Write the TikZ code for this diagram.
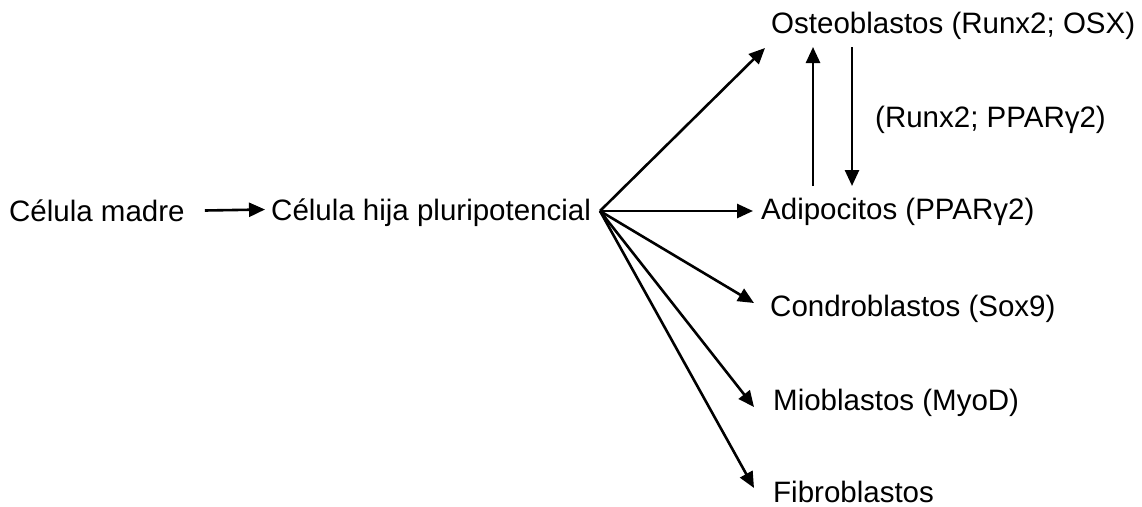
\documentclass[tikz,border=0pt]{standalone}
\usepackage{fontspec}
\setmainfont{Liberation Sans}
\usetikzlibrary{arrows.meta}
\begin{document}
\begin{tikzpicture}[x=1pt,y=-1pt,
  lbl/.style={anchor=base west,inner sep=0pt,text height=21pt,text depth=0pt,font=\fontsize{29.5}{34}\selectfont},
  arr/.style={line width=2.6pt,-{Triangle[length=16pt,width=14pt]}}]
\useasboundingbox (0,0) rectangle (1142,506);
\node[lbl] (madre) at (9,221) {Célula madre};
\node[lbl] (hija) at (271,220) {Célula hija pluripotencial};
\node[lbl] (osteo) at (771,33) {Osteoblastos (Runx2; OSX)};
\node[lbl] (adipo) at (761,219) {Adipocitos (PPARγ2)};
\node[lbl] (condro) at (770,316) {Condroblastos (Sox9)};
\node[lbl] (mio) at (773,410) {Mioblastos (MyoD)};
\node[lbl] (fibro) at (773,502) {Fibroblastos};
\node[lbl] (reg) at (875,127) {(Runx2; PPARγ2)};
\coordinate (hub) at (600,211);
\coordinate (tOsteo) at (765,48);
\coordinate (tAdipo) at (753,211);
\coordinate (tCondro) at (754,303);
\coordinate (tMio) at (754,407);
\coordinate (tFibro) at (754,488);
\coordinate (upS) at (813,186);
\coordinate (upE) at (813,47);
\coordinate (dnS) at (852,47);
\coordinate (dnE) at (852,186);
\draw[arr] ([xshift=20pt]madre.east) -- ([xshift=-6pt]hija.west);
\draw[arr] (hub) -- (tOsteo);
\draw[arr] (hub) -- (tAdipo);
\draw[arr] (hub) -- (tCondro);
\draw[arr] (hub) -- (tMio);
\draw[arr] (hub) -- (tFibro);
\draw[arr] (upS) -- (upE);
\draw[arr] (dnS) -- (dnE);
\end{tikzpicture}
\end{document}
